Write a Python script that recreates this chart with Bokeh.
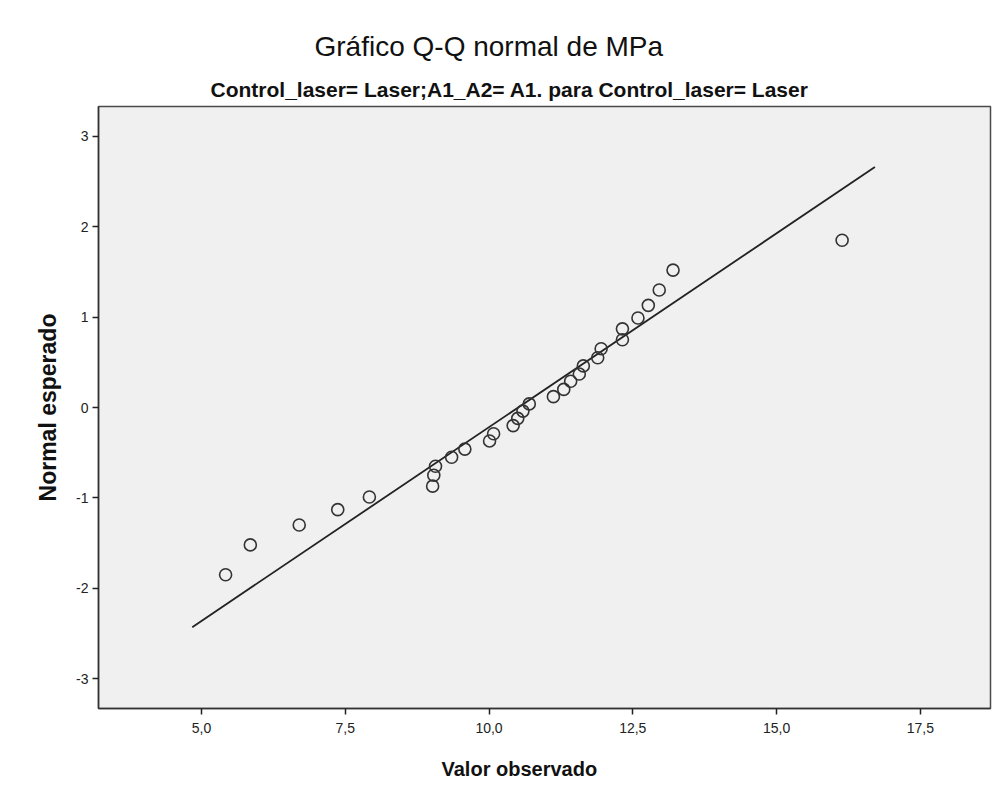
from bokeh.plotting import figure
from bokeh.models import Range1d, FixedTicker, Title, ColumnDataSource
from bokeh.embed import file_html
from bokeh.resources import INLINE

# ---- data ----
observed = [5.42, 5.85, 6.70, 7.37, 7.92, 9.02, 9.04, 9.07, 9.35, 9.58,
            10.01, 10.08, 10.42, 10.50, 10.59, 10.70, 11.12, 11.30, 11.42, 11.57,
            11.64, 11.89, 11.95, 12.32, 12.32, 12.59, 12.77, 12.96, 13.20, 16.14]
expected = [-1.85, -1.52, -1.30, -1.13, -0.99, -0.87, -0.75, -0.65, -0.55, -0.46,
            -0.37, -0.29, -0.20, -0.12, -0.04, 0.04, 0.12, 0.20, 0.29, 0.37,
            0.46, 0.55, 0.65, 0.75, 0.87, 0.99, 1.13, 1.30, 1.52, 1.85]
line_x = [4.84, 16.71]
line_y = [-2.43, 2.66]
x_ticks = [5.0, 7.5, 10.0, 12.5, 15.0, 17.5]
x_tick_labels = ["5,0", "7,5", "10,0", "12,5", "15,0", "17,5"]
y_ticks = [-3, -2, -1, 0, 1, 2, 3]
y_tick_labels = ["-3", "-2", "-1", "0", "1", "2", "3"]

title_text = "Gráfico Q-Q normal de MPa"
subtitle_text = "Control_laser= Laser;A1_A2= A1. para Control_laser= Laser"
x_label = "Valor observado"
y_label = "Normal esperado"

ARIAL = "Liberation Sans"

p = figure(width=992, height=799, output_backend="svg", toolbar_location=None,
           x_range=Range1d(3.21, 18.72), y_range=Range1d(-3.33, 3.33),
           min_border_left=98, min_border_right=2, min_border_top=106, min_border_bottom=89,
           background_fill_color="#f0f0f0", border_fill_color="white")

p.outline_line_color = "#4a4a4a"
p.outline_line_width = 1.5
p.grid.visible = False

# titles (subtitle first = closest to plot)
sub = Title(text=subtitle_text, align="left", text_font=ARIAL, text_font_size="21px",
            text_font_style="bold", text_color="#111111", offset=112, standoff=12)
main = Title(text=title_text, align="left", text_font=ARIAL, text_font_size="28px",
             text_font_style="normal", text_color="#111111", offset=216, standoff=16)
p.add_layout(sub, "above")
p.add_layout(main, "above")

# x label as title below
xl = Title(text=x_label, align="left", text_font=ARIAL, text_font_size="20px",
           text_font_style="bold", text_color="#111111", offset=343, standoff=40)
p.add_layout(xl, "below")

# axes
p.xaxis.ticker = FixedTicker(ticks=x_ticks)
p.xaxis.major_label_overrides = dict(zip(x_ticks, x_tick_labels))
p.yaxis.ticker = FixedTicker(ticks=y_ticks)
p.yaxis.major_label_overrides = dict(zip(y_ticks, y_tick_labels))
for ax in (p.xaxis, p.yaxis):
    ax.minor_tick_line_color = None
    ax.major_tick_in = 0
    ax.major_tick_out = 6
    ax.major_tick_line_color = "#222222"
    ax.major_tick_line_width = 1.5
    ax.axis_line_color = "#333333"
    ax.axis_line_width = 1.5
    ax.major_label_text_color = "#222222"
    ax.major_label_text_font = ARIAL
    ax.major_label_text_font_size = "14px"
p.xaxis.major_label_standoff = 8
p.yaxis.major_label_standoff = 4

p.yaxis.axis_label = y_label
p.yaxis.axis_label_text_font = ARIAL
p.yaxis.axis_label_text_font_size = "23px"
p.yaxis.axis_label_text_font_style = "bold"
p.yaxis.axis_label_text_color = "#111111"
p.yaxis.axis_label_standoff = 12

# data
p.line(line_x, line_y, line_color="#222222", line_width=1.8)
src = ColumnDataSource(dict(x=observed, y=expected))
p.scatter("x", "y", source=src, size=12, marker="circle", fill_color=None,
          line_color="#333333", line_width=1.6)

html = file_html(p, INLINE)
open("out.html", "w").write(html)
